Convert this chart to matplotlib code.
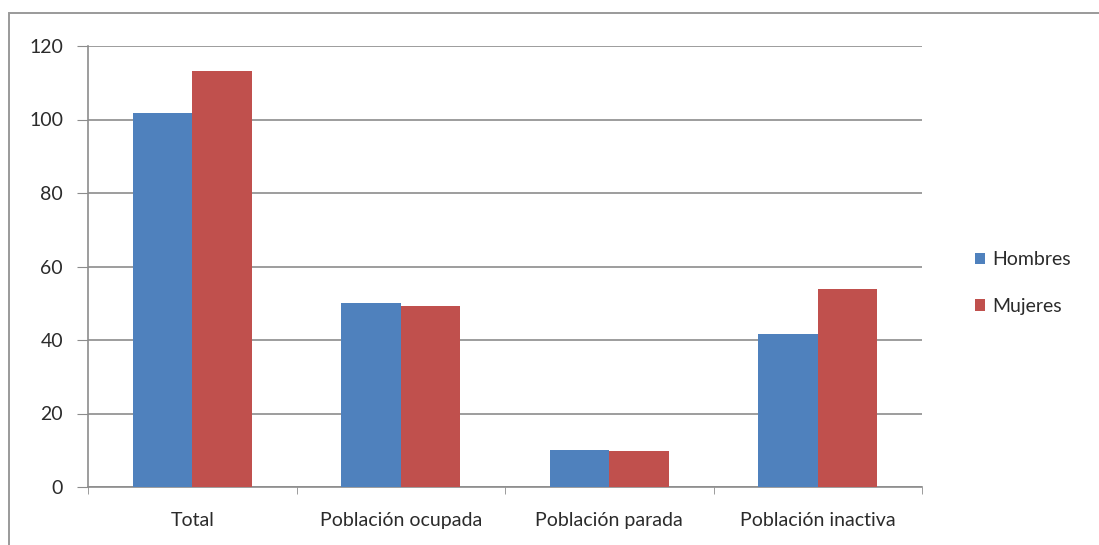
import numpy as np
import matplotlib.pyplot as plt
from matplotlib.patches import Rectangle

# ── data ──
categorias = ["Total", "Población ocupada", "Población parada", "Población inactiva"]
hombres = [101.7, 50.0, 10.2, 41.6]
mujeres = [113.2, 49.3, 9.9, 54.0]
series_labels = ["Hombres", "Mujeres"]

plt.rcParams['font.family'] = ['Lato', 'DejaVu Sans']

fig = plt.figure(figsize=(10.99, 5.45), dpi=100)
ax = fig.add_axes([88 / 1099, 1 - 487 / 545, (922 - 88) / 1099, (487 - 46) / 545])

x = np.arange(len(categorias))
w = 1 / 3.5
ax.bar(x - w / 2, hombres, w, color='#4F81BD', label=series_labels[0], zorder=3)
ax.bar(x + w / 2, mujeres, w, color='#C0504D', label=series_labels[1], zorder=3)

ax.set_xlim(-0.5, len(categorias) - 0.5)
ax.set_ylim(0, 120)
ax.set_yticks(range(0, 121, 20))
ax.yaxis.grid(True, color='#8c8c8c', linewidth=1.2, zorder=0)
ax.set_xticks(x)
ax.set_xticklabels(categorias, fontsize=14, color='#2b2b2b')
ax.set_xticks(np.arange(-0.5, len(categorias), 1), minor=True)
ax.tick_params(axis='x', which='major', length=0, pad=18)
ax.tick_params(axis='x', which='minor', length=5, color='#8c8c8c')
ax.tick_params(axis='y', length=8, color='#8c8c8c', labelsize=14, labelcolor='#2b2b2b', pad=10)

for s in ['top', 'right']:
    ax.spines[s].set_visible(False)
for s in ['left', 'bottom']:
    ax.spines[s].set_color('#8c8c8c')
    ax.spines[s].set_linewidth(1.2)

leg = fig.legend(loc='center left', bbox_to_anchor=(957 / 1099, 1 - 283 / 545),
                 frameon=False, fontsize=14, handlelength=0.55, handleheight=0.55,
                 labelspacing=1.5, handletextpad=0.35)
for t in leg.get_texts():
    t.set_color('#2b2b2b')

# outer chart border (only top and left visible in the crop)
fig.patches.append(Rectangle((9 / 1099, -0.1), 1.2, 1 - 13 / 545 + 0.1,
                             transform=fig.transFigure, fill=False,
                             edgecolor='#9a9a9a', linewidth=1.4))

fig.savefig('out.png', dpi=100)
